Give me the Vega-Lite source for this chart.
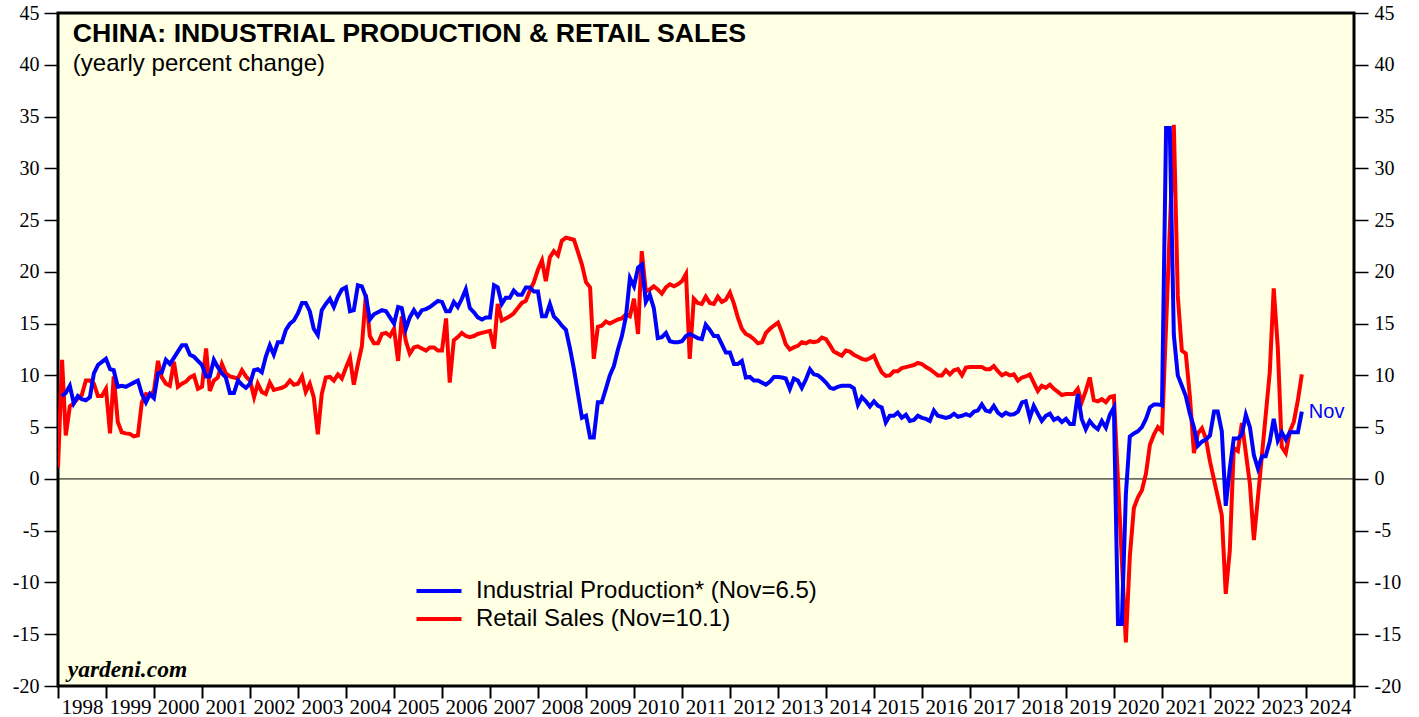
{
"$schema":"https://vega.github.io/schema/vega-lite/v6.json",
"width":1296,"height":673,
"autosize":{"type":"none"},
"padding":{"left":58,"top":13,"right":65,"bottom":31},
"background":"white",
"config":{"view":{"stroke":"black","strokeWidth":3,"fill":"#FFFFE3"},
"axis":{"grid":false,"domain":false,"labelFont":"Liberation Serif","labelFontSize":20,"labelColor":"black","tickColor":"black","title":null}},
"data":{"values":[
{"d":"1997-12","rs":1.1},
{"d":"1998-01","ip":8.0,"rs":11.5},{"d":"1998-02","ip":8.3,"rs":4.2},{"d":"1998-03","ip":9.0,"rs":7.0},{"d":"1998-04","ip":7.3,"rs":7.3},{"d":"1998-05","ip":8.0,"rs":7.8},{"d":"1998-06","ip":7.7,"rs":8.1},{"d":"1998-07","ip":7.6,"rs":9.5},{"d":"1998-08","ip":7.9,"rs":9.5},{"d":"1998-09","ip":10.2,"rs":9.2},{"d":"1998-10","ip":11.0,"rs":8.0},{"d":"1998-11","ip":11.3,"rs":8.0},{"d":"1998-12","ip":11.6,"rs":8.7},
{"d":"1999-01","ip":10.6,"rs":4.4},{"d":"1999-02","ip":10.5,"rs":9.9},{"d":"1999-03","ip":8.9,"rs":5.5},{"d":"1999-04","ip":9.0,"rs":4.5},{"d":"1999-05","ip":8.9,"rs":4.4},{"d":"1999-06","ip":9.1,"rs":4.35},{"d":"1999-07","ip":9.3,"rs":4.1},{"d":"1999-08","ip":9.5,"rs":4.2},{"d":"1999-09","ip":8.2,"rs":7.4},{"d":"1999-10","ip":7.4,"rs":8.2},{"d":"1999-11","ip":8.2,"rs":8.1},{"d":"1999-12","ip":7.8,"rs":8.5},
{"d":"2000-01","ip":10.2,"rs":11.4},{"d":"2000-02","ip":10.3,"rs":9.8},{"d":"2000-03","ip":11.5,"rs":9.2},{"d":"2000-04","ip":11.1,"rs":9.0},{"d":"2000-05","ip":11.7,"rs":11.3},{"d":"2000-06","ip":12.3,"rs":8.9},{"d":"2000-07","ip":12.9,"rs":9.2},{"d":"2000-08","ip":12.9,"rs":9.4},{"d":"2000-09","ip":12.0,"rs":9.8},{"d":"2000-10","ip":11.8,"rs":10.0},{"d":"2000-11","ip":11.4,"rs":8.7},{"d":"2000-12","ip":11.0,"rs":8.9},
{"d":"2001-01","ip":9.9,"rs":12.6},{"d":"2001-02","ip":9.9,"rs":8.5},{"d":"2001-03","ip":11.5,"rs":9.5},{"d":"2001-04","ip":10.8,"rs":9.8},{"d":"2001-05","ip":10.2,"rs":11.1},{"d":"2001-06","ip":9.8,"rs":10.2},{"d":"2001-07","ip":8.3,"rs":9.9},{"d":"2001-08","ip":8.3,"rs":9.8},{"d":"2001-09","ip":9.5,"rs":9.7},{"d":"2001-10","ip":9.1,"rs":10.5},{"d":"2001-11","ip":8.8,"rs":9.9},{"d":"2001-12","ip":9.2,"rs":9.5},
{"d":"2002-01","ip":10.5,"rs":7.9},{"d":"2002-02","ip":10.6,"rs":9.2},{"d":"2002-03","ip":10.3,"rs":8.4},{"d":"2002-04","ip":11.8,"rs":8.2},{"d":"2002-05","ip":12.9,"rs":9.3},{"d":"2002-06","ip":12.0,"rs":8.6},{"d":"2002-07","ip":13.2,"rs":8.7},{"d":"2002-08","ip":13.2,"rs":8.8},{"d":"2002-09","ip":14.4,"rs":9.0},{"d":"2002-10","ip":15.0,"rs":9.5},{"d":"2002-11","ip":15.3,"rs":9.1},{"d":"2002-12","ip":16.0,"rs":9.2},
{"d":"2003-01","ip":17.0,"rs":9.9},{"d":"2003-02","ip":17.0,"rs":8.4},{"d":"2003-03","ip":16.2,"rs":9.2},{"d":"2003-04","ip":14.5,"rs":7.9},{"d":"2003-05","ip":13.9,"rs":4.3},{"d":"2003-06","ip":16.3,"rs":8.2},{"d":"2003-07","ip":16.9,"rs":9.8},{"d":"2003-08","ip":17.4,"rs":9.85},{"d":"2003-09","ip":16.6,"rs":9.5},{"d":"2003-10","ip":17.6,"rs":10.1},{"d":"2003-11","ip":18.3,"rs":9.7},{"d":"2003-12","ip":18.5,"rs":10.75},
{"d":"2004-01","ip":16.2,"rs":11.7},{"d":"2004-02","ip":16.3,"rs":9.1},{"d":"2004-03","ip":18.7,"rs":11.1},{"d":"2004-04","ip":18.6,"rs":12.8},{"d":"2004-05","ip":17.6,"rs":17.8},{"d":"2004-06","ip":15.4,"rs":13.8},{"d":"2004-07","ip":15.9,"rs":13.1},{"d":"2004-08","ip":16.1,"rs":13.1},{"d":"2004-09","ip":16.3,"rs":14.0},{"d":"2004-10","ip":16.2,"rs":14.1},{"d":"2004-11","ip":15.6,"rs":13.8},{"d":"2004-12","ip":15.0,"rs":14.5},
{"d":"2005-01","ip":16.6,"rs":11.4},{"d":"2005-02","ip":16.5,"rs":15.7},{"d":"2005-03","ip":14.5,"rs":13.3},{"d":"2005-04","ip":15.6,"rs":12.1},{"d":"2005-05","ip":16.3,"rs":12.7},{"d":"2005-06","ip":15.7,"rs":12.8},{"d":"2005-07","ip":16.3,"rs":12.6},{"d":"2005-08","ip":16.4,"rs":12.4},{"d":"2005-09","ip":16.6,"rs":12.7},{"d":"2005-10","ip":16.9,"rs":12.7},{"d":"2005-11","ip":17.2,"rs":12.4},{"d":"2005-12","ip":17.1,"rs":12.4},
{"d":"2006-01","ip":16.2,"rs":15.5},{"d":"2006-02","ip":16.2,"rs":9.3},{"d":"2006-03","ip":17.1,"rs":13.4},{"d":"2006-04","ip":16.6,"rs":13.7},{"d":"2006-05","ip":17.4,"rs":14.1},{"d":"2006-06","ip":18.3,"rs":13.8},{"d":"2006-07","ip":16.5,"rs":13.7},{"d":"2006-08","ip":16.1,"rs":13.8},{"d":"2006-09","ip":15.6,"rs":14.0},{"d":"2006-10","ip":15.4,"rs":14.1},{"d":"2006-11","ip":15.6,"rs":14.2},{"d":"2006-12","ip":15.6,"rs":14.3},
{"d":"2007-01","ip":18.7,"rs":12.6},{"d":"2007-02","ip":18.5,"rs":16.9},{"d":"2007-03","ip":16.9,"rs":15.3},{"d":"2007-04","ip":17.5,"rs":15.5},{"d":"2007-05","ip":17.5,"rs":15.7},{"d":"2007-06","ip":18.2,"rs":16.0},{"d":"2007-07","ip":17.8,"rs":16.5},{"d":"2007-08","ip":17.8,"rs":17.0},{"d":"2007-09","ip":18.5,"rs":17.2},{"d":"2007-10","ip":18.5,"rs":18.2},{"d":"2007-11","ip":18.1,"rs":19.0},{"d":"2007-12","ip":18.1,"rs":20.2},
{"d":"2008-01","ip":15.7,"rs":21.1},{"d":"2008-02","ip":15.7,"rs":19.1},{"d":"2008-03","ip":16.9,"rs":21.4},{"d":"2008-04","ip":15.7,"rs":22.0},{"d":"2008-05","ip":15.3,"rs":21.6},{"d":"2008-06","ip":14.8,"rs":23.0},{"d":"2008-07","ip":14.4,"rs":23.3},{"d":"2008-08","ip":12.6,"rs":23.2},{"d":"2008-09","ip":10.6,"rs":23.1},{"d":"2008-10","ip":8.2,"rs":21.9},{"d":"2008-11","ip":5.9,"rs":20.7},{"d":"2008-12","ip":6.1,"rs":19.0},
{"d":"2009-01","ip":4.0,"rs":18.5},{"d":"2009-02","ip":4.0,"rs":11.6},{"d":"2009-03","ip":7.4,"rs":14.7},{"d":"2009-04","ip":7.4,"rs":14.8},{"d":"2009-05","ip":8.7,"rs":15.2},{"d":"2009-06","ip":10.0,"rs":15.0},{"d":"2009-07","ip":10.9,"rs":15.2},{"d":"2009-08","ip":12.5,"rs":15.4},{"d":"2009-09","ip":13.8,"rs":15.5},{"d":"2009-10","ip":15.7,"rs":15.9},{"d":"2009-11","ip":19.4,"rs":15.7},{"d":"2009-12","ip":18.6,"rs":17.4},
{"d":"2010-01","ip":20.4,"rs":14.0},{"d":"2010-02","ip":20.7,"rs":22.0},{"d":"2010-03","ip":17.1,"rs":18.1},{"d":"2010-04","ip":17.8,"rs":18.3},{"d":"2010-05","ip":16.5,"rs":18.6},{"d":"2010-06","ip":13.6,"rs":18.3},{"d":"2010-07","ip":13.7,"rs":17.9},{"d":"2010-08","ip":14.1,"rs":18.5},{"d":"2010-09","ip":13.3,"rs":18.8},{"d":"2010-10","ip":13.2,"rs":18.6},{"d":"2010-11","ip":13.2,"rs":18.8},{"d":"2010-12","ip":13.3,"rs":19.1},
{"d":"2011-01","ip":13.8,"rs":19.8},{"d":"2011-02","ip":14.0,"rs":11.6},{"d":"2011-03","ip":13.8,"rs":17.4},{"d":"2011-04","ip":13.6,"rs":17.0},{"d":"2011-05","ip":13.5,"rs":16.9},{"d":"2011-06","ip":14.9,"rs":17.6},{"d":"2011-07","ip":14.4,"rs":17.0},{"d":"2011-08","ip":13.8,"rs":16.9},{"d":"2011-09","ip":13.8,"rs":17.6},{"d":"2011-10","ip":13.0,"rs":17.1},{"d":"2011-11","ip":12.2,"rs":17.3},{"d":"2011-12","ip":12.2,"rs":18.0},
{"d":"2012-01","ip":11.1,"rs":16.9},{"d":"2012-02","ip":11.1,"rs":15.6},{"d":"2012-03","ip":11.4,"rs":14.5},{"d":"2012-04","ip":9.8,"rs":14.0},{"d":"2012-05","ip":9.85,"rs":13.8},{"d":"2012-06","ip":9.5,"rs":13.5},{"d":"2012-07","ip":9.5,"rs":13.1},{"d":"2012-08","ip":9.3,"rs":13.2},{"d":"2012-09","ip":9.1,"rs":14.1},{"d":"2012-10","ip":9.4,"rs":14.5},{"d":"2012-11","ip":9.85,"rs":14.8},{"d":"2012-12","ip":9.85,"rs":15.1},
{"d":"2013-01","ip":9.8,"rs":14.1},{"d":"2013-02","ip":9.7,"rs":13.0},{"d":"2013-03","ip":8.7,"rs":12.5},{"d":"2013-04","ip":9.7,"rs":12.7},{"d":"2013-05","ip":9.5,"rs":12.85},{"d":"2013-06","ip":8.8,"rs":13.2},{"d":"2013-07","ip":9.6,"rs":13.1},{"d":"2013-08","ip":10.6,"rs":13.3},{"d":"2013-09","ip":10.1,"rs":13.2},{"d":"2013-10","ip":10.0,"rs":13.3},{"d":"2013-11","ip":9.7,"rs":13.65},{"d":"2013-12","ip":9.3,"rs":13.5},
{"d":"2014-01","ip":8.8,"rs":12.9},{"d":"2014-02","ip":8.7,"rs":12.3},{"d":"2014-03","ip":8.9,"rs":12.1},{"d":"2014-04","ip":9.0,"rs":11.9},{"d":"2014-05","ip":9.0,"rs":12.4},{"d":"2014-06","ip":9.0,"rs":12.3},{"d":"2014-07","ip":8.75,"rs":12.0},{"d":"2014-08","ip":7.15,"rs":11.8},{"d":"2014-09","ip":7.9,"rs":11.6},{"d":"2014-10","ip":7.5,"rs":11.5},{"d":"2014-11","ip":7.0,"rs":11.65},{"d":"2014-12","ip":7.5,"rs":11.9},
{"d":"2015-01","ip":7.05,"rs":11.0},{"d":"2015-02","ip":6.9,"rs":10.3},{"d":"2015-03","ip":5.45,"rs":9.95},{"d":"2015-04","ip":6.1,"rs":10.0},{"d":"2015-05","ip":6.1,"rs":10.4},{"d":"2015-06","ip":6.4,"rs":10.4},{"d":"2015-07","ip":5.9,"rs":10.7},{"d":"2015-08","ip":6.2,"rs":10.8},{"d":"2015-09","ip":5.6,"rs":10.9},{"d":"2015-10","ip":5.7,"rs":11.0},{"d":"2015-11","ip":6.1,"rs":11.2},{"d":"2015-12","ip":5.9,"rs":11.1},
{"d":"2016-01","ip":5.8,"rs":10.8},{"d":"2016-02","ip":5.6,"rs":10.6},{"d":"2016-03","ip":6.6,"rs":10.3},{"d":"2016-04","ip":6.1,"rs":10.0},{"d":"2016-05","ip":6.0,"rs":10.0},{"d":"2016-06","ip":5.9,"rs":10.5},{"d":"2016-07","ip":6.0,"rs":10.1},{"d":"2016-08","ip":6.3,"rs":10.5},{"d":"2016-09","ip":6.0,"rs":10.6},{"d":"2016-10","ip":6.1,"rs":10.0},{"d":"2016-11","ip":6.25,"rs":10.75},{"d":"2016-12","ip":6.1,"rs":10.8},
{"d":"2017-01","ip":6.5,"rs":10.8},{"d":"2017-02","ip":6.6,"rs":10.8},{"d":"2017-03","ip":7.2,"rs":10.8},{"d":"2017-04","ip":6.6,"rs":10.6},{"d":"2017-05","ip":6.5,"rs":10.6},{"d":"2017-06","ip":7.05,"rs":10.9},{"d":"2017-07","ip":6.4,"rs":10.4},{"d":"2017-08","ip":6.1,"rs":10.0},{"d":"2017-09","ip":6.4,"rs":10.2},{"d":"2017-10","ip":6.2,"rs":10.0},{"d":"2017-11","ip":6.25,"rs":10.1},{"d":"2017-12","ip":6.5,"rs":9.5},
{"d":"2018-01","ip":7.4,"rs":9.8},{"d":"2018-02","ip":7.5,"rs":9.9},{"d":"2018-03","ip":5.9,"rs":10.1},{"d":"2018-04","ip":7.05,"rs":9.3},{"d":"2018-05","ip":6.3,"rs":8.5},{"d":"2018-06","ip":5.6,"rs":9.0},{"d":"2018-07","ip":6.1,"rs":8.8},{"d":"2018-08","ip":6.3,"rs":9.1},{"d":"2018-09","ip":5.7,"rs":8.7},{"d":"2018-10","ip":5.9,"rs":8.4},{"d":"2018-11","ip":5.5,"rs":8.1},{"d":"2018-12","ip":5.8,"rs":8.2},
{"d":"2019-01","ip":5.3,"rs":8.2},{"d":"2019-02","ip":5.3,"rs":8.2},{"d":"2019-03","ip":8.2,"rs":8.7},{"d":"2019-04","ip":5.8,"rs":7.4},{"d":"2019-05","ip":4.8,"rs":8.5},{"d":"2019-06","ip":5.6,"rs":9.8},{"d":"2019-07","ip":5.1,"rs":7.6},{"d":"2019-08","ip":4.8,"rs":7.5},{"d":"2019-09","ip":5.6,"rs":7.7},{"d":"2019-10","ip":4.95,"rs":7.4},{"d":"2019-11","ip":6.2,"rs":7.9},{"d":"2019-12","ip":6.9,"rs":8.0},
{"d":"2020-01","ip":-14.0},{"d":"2020-02","ip":-14.0},{"d":"2020-03","ip":-1.5,"rs":-15.8},{"d":"2020-04","ip":4.1,"rs":-7.5},{"d":"2020-05","ip":4.4,"rs":-2.8},{"d":"2020-06","ip":4.6,"rs":-1.8},{"d":"2020-07","ip":5.0,"rs":-1.1},{"d":"2020-08","ip":5.8,"rs":0.5},{"d":"2020-09","ip":6.9,"rs":3.3},{"d":"2020-10","ip":7.2,"rs":4.3},{"d":"2020-11","ip":7.2,"rs":5.0},{"d":"2020-12","ip":7.1,"rs":4.6},
{"d":"2021-01","ip":33.9},{"d":"2021-02","ip":33.9},{"d":"2021-03","ip":13.9,"rs":34.2},{"d":"2021-04","ip":10.0,"rs":17.7},{"d":"2021-05","ip":9.0,"rs":12.4},{"d":"2021-06","ip":8.0,"rs":12.1},{"d":"2021-07","ip":6.3,"rs":8.0},{"d":"2021-08","ip":5.0,"rs":2.5},{"d":"2021-09","ip":3.2,"rs":4.4},{"d":"2021-10","ip":3.6,"rs":4.9},{"d":"2021-11","ip":3.8,"rs":3.9},{"d":"2021-12","ip":4.2,"rs":1.7},
{"d":"2022-01","ip":6.5},{"d":"2022-02","ip":6.5},{"d":"2022-03","ip":4.6,"rs":-3.5},{"d":"2022-04","ip":-2.6,"rs":-11.1},{"d":"2022-05","ip":1.0,"rs":-6.9},{"d":"2022-06","ip":3.9,"rs":3.0},{"d":"2022-07","ip":3.9,"rs":2.7},{"d":"2022-08","ip":4.3,"rs":5.4},{"d":"2022-09","ip":6.2,"rs":2.5},{"d":"2022-10","ip":5.0,"rs":-0.5},{"d":"2022-11","ip":2.3,"rs":-5.9},{"d":"2022-12","ip":1.0,"rs":-1.8},
{"d":"2023-01","ip":2.2},{"d":"2023-02","ip":2.2},{"d":"2023-03","ip":3.6,"rs":10.3},{"d":"2023-04","ip":5.8,"rs":18.4},{"d":"2023-05","ip":3.7,"rs":12.7},{"d":"2023-06","ip":4.5,"rs":3.1},{"d":"2023-07","ip":3.8,"rs":2.5},{"d":"2023-08","ip":4.5,"rs":4.6},{"d":"2023-09","ip":4.5,"rs":5.5},{"d":"2023-10","ip":4.5,"rs":7.6},{"d":"2023-11","ip":6.5,"rs":10.1}
]},
"transform":[{"fold":["ip","rs"],"as":["k","v"]},{"filter":"isValid(datum.v)"}],
"layer":[
{"data":{"values":[{}]},
 "mark":{"type":"rule","color":"black","strokeWidth":1},
 "encoding":{"y":{"datum":0,"type":"quantitative","scale":{"domain":[-20,45],"nice":false,"zero":false},
  "axis":{"orient":"right","values":[-20,-15,-10,-5,0,5,10,15,20,25,30,35,40,45],"labelExpr":"datum.value < 0 ? '-' + abs(datum.value) : '' + datum.value","tickSize":14,"tickWidth":1.5,"labelPadding":6}}}},
{"mark":{"type":"line","strokeWidth":4,"clip":true},
 "encoding":{
  "x":{"field":"d","type":"temporal","timeUnit":"utcyearmonth","bandPosition":1,
   "scale":{"type":"utc","domain":[{"year":1998,"month":1,"date":1,"utc":true},{"year":2025,"month":1,"date":1,"utc":true}]},
   "axis":{"tickCount":{"interval":"year","step":1},"labelExpr":"utcyear(datum.value) > 2024 ? '' : utcFormat(datum.value, '%Y')","labelAlign":"center","labelOffset":24,"labelOverlap":false,"labelFlush":false,"labelFontSize":21,"tickSize":12,"tickWidth":2,"labelPadding":-2}},
  "y":{"field":"v","type":"quantitative","scale":{"domain":[-20,45],"nice":false,"zero":false},
   "axis":{"orient":"left","values":[-20,-15,-10,-5,0,5,10,15,20,25,30,35,40,45],"labelExpr":"datum.value < 0 ? '-' + abs(datum.value) : '' + datum.value","tickSize":14,"tickWidth":1.5,"labelPadding":5}},
  "color":{"field":"k","type":"nominal","scale":{"domain":["ip","rs"],"range":["#0000FF","#FF0000"]},
   "legend":{"title":null,"orient":"none","legendX":369,"legendY":566,"symbolType":"M-4.5,0H4.5","symbolSize":100,"symbolStrokeWidth":4,"labelFont":"Liberation Sans","labelFontSize":24,"labelColor":"black","labelLimit":0,"rowPadding":4,"labelOffset":25,
    "labelExpr":"datum.value == 'ip' ? 'Industrial Production* (Nov=6.5)' : 'Retail Sales (Nov=10.1)'"}}}},
{"transform":[{"filter":"datum.k == 'ip' && utcyear(datum.d) == 2023 && utcmonth(datum.d) == 10"}],
 "mark":{"type":"text","align":"left","baseline":"middle","dx":7,"dy":0,"font":"Liberation Sans","fontSize":20,"color":"#0000FF","text":"Nov"},
 "encoding":{"x":{"field":"d","type":"temporal","timeUnit":"utcyearmonth","bandPosition":1},"y":{"field":"v","type":"quantitative","axis":null}}},
{"data":{"values":[{"t":"CHINA: INDUSTRIAL PRODUCTION & RETAIL SALES","x":"1998-04-24","y":43.0}]},
 "mark":{"type":"text","align":"left","baseline":"middle","font":"Liberation Sans","fontSize":26.7,"fontWeight":"bold","color":"black"},
 "encoding":{"text":{"field":"t"},"x":{"field":"x","type":"temporal"},"y":{"field":"y","type":"quantitative","axis":null}}},
{"data":{"values":[{"t":"(yearly percent change)","x":"1998-04-24","y":40.1}]},
 "mark":{"type":"text","align":"left","baseline":"middle","font":"Liberation Sans","fontSize":24,"color":"black"},
 "encoding":{"text":{"field":"t"},"x":{"field":"x","type":"temporal"},"y":{"field":"y","type":"quantitative","axis":null}}},
{"data":{"values":[{"t":"yardeni.com","x":"1998-03-16","y":-18.5}]},
 "mark":{"type":"text","align":"left","baseline":"middle","font":"Liberation Serif","fontSize":23.5,"fontWeight":"bold","fontStyle":"italic","color":"black"},
 "encoding":{"text":{"field":"t"},"x":{"field":"x","type":"temporal"},"y":{"field":"y","type":"quantitative","axis":null}}}
],
"resolve":{"scale":{"y":"shared"},"axis":{"y":"independent"}}
}
